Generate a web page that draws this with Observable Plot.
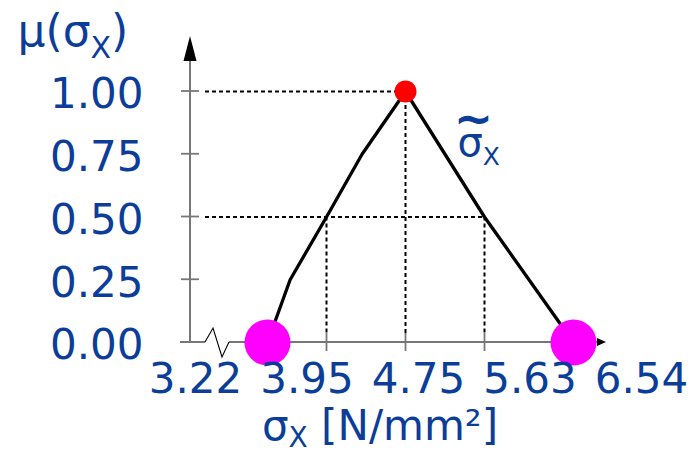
<!DOCTYPE html>
<html>
<head>
<meta charset="utf-8">
<script src="https://cdn.jsdelivr.net/npm/d3@7"></script>
<script src="https://cdn.jsdelivr.net/npm/@observablehq/plot@0.6"></script>
<style>
  html, body { margin: 0; padding: 0; background: #fff; }
</style>
</head>
<body>
<div id="chart"></div>
<script>
// Tick values of the stress axis σX (N/mm²) and of the membership axis μ
const xTicks = [3.22, 3.95, 4.75, 5.63, 6.54];
const yTicks = [0, 0.25, 0.5, 0.75, 1];

// Membership function of the fuzzy stress: rising branch, then falling branch
const sigma = [3.22, 3.50, 3.95, 4.31, 4.75, 5.63, 6.54];
const mu    = [0,    0.25, 0.5,  0.75, 1,    0.5,  0];

// Support bounds, modal value and the α = 0.5 interval
const support = [3.22, 6.54];
const peak = 4.75;
const alphaCut = [3.95, 5.63];
const alpha = 0.5;

const blue = "#0b3d99";
const axisGray = "#777";

const curve = sigma.map((s, i) => ({s, m: mu[i]}));
const hGuides = [{s: peak, m: 1}, {s: alphaCut[1], m: alpha}];
const vGuides = [{s: alphaCut[0], m: alpha}, {s: peak, m: 1}, {s: alphaCut[1], m: alpha}];

// Axis lines: vertical axis with arrowhead, horizontal axis with a break near the origin
function axisFrame(index, scales, values, dim) {
  const {width, height, marginLeft: ml, marginRight: mr, marginTop: mt, marginBottom: mb} = dim;
  const y0 = height - mb;
  const xEnd = width - mr;
  const yPos = (t) => (scales && typeof scales.y === "function") ? scales.y(t) : y0 - t * (y0 - mt);
  const g = d3.create("svg:g");
  g.append("line")
    .attr("x1", ml).attr("x2", ml).attr("y1", y0).attr("y2", mt - 30)
    .attr("stroke", axisGray).attr("stroke-width", 2);
  g.append("path")
    .attr("d", `M${ml},${mt - 55}L${ml - 6.5},${mt - 30}L${ml + 6.5},${mt - 30}Z`)
    .attr("fill", "black");
  for (const t of yTicks) {
    const y = yPos(t);
    g.append("line")
      .attr("x1", ml - 9).attr("x2", ml + 9).attr("y1", y).attr("y2", y)
      .attr("stroke", axisGray).attr("stroke-width", 1.8);
  }
  g.append("line")
    .attr("x1", ml - 10).attr("x2", ml + 15).attr("y1", y0).attr("y2", y0)
    .attr("stroke", axisGray).attr("stroke-width", 2);
  g.append("line")
    .attr("x1", ml + 39).attr("x2", xEnd).attr("y1", y0).attr("y2", y0)
    .attr("stroke", axisGray).attr("stroke-width", 2);
  g.append("path")
    .attr("d", `M${ml + 15},${y0}L${ml + 23},${y0 - 14}L${ml + 32},${y0 + 15}L${ml + 39},${y0}`)
    .attr("fill", "none").attr("stroke", "black").attr("stroke-width", 1.1);
  g.append("path")
    .attr("d", `M${xEnd + 9},${y0}L${xEnd},${y0 - 4}L${xEnd},${y0 + 4}Z`)
    .attr("fill", "black");
  return g.node();
}

const fmt = d3.format(".2f");
const textBase = {fill: blue, fontSize: 42, lineAnchor: "middle"};

// The stress tick labels sit in an evenly spaced row under the axis
const labelStep = 111.5;
const xLabelMarks = xTicks.map((v, i) =>
  Plot.text([v], {...textBase, frameAnchor: "bottom-left", textAnchor: "middle", dx: 5 + i * labelStep, dy: 37, text: fmt})
);

const chart = Plot.plot({
  width: 696,
  height: 451,
  marginLeft: 190,
  marginRight: 99,
  marginTop: 91,
  marginBottom: 109,
  x: {type: "linear", domain: xTicks, range: [267, 326, 405, 484, 573], axis: null},
  y: {domain: [0, 1], axis: null},
  style: {fontFamily: "DejaVu Sans", background: "white", overflow: "visible"},
  marks: [
    // dashed guides to the modal value and the α-cut bounds
    Plot.ruleY(hGuides, {y: "m", x1: null, x2: "s", insetLeft: 15, stroke: "black", strokeWidth: 2, strokeDasharray: "4,3"}),
    Plot.ruleX(vGuides, {x: "s", y1: "m", y2: 0, insetBottom: 9, stroke: "black", strokeWidth: 2, strokeDasharray: "4,3"}),
    axisFrame,
    // tick marks on the stress axis
    Plot.ruleX(xTicks, {x: (d) => d, y1: 0, y2: 0, insetTop: -9, insetBottom: -9, stroke: axisGray, strokeWidth: 1.8}),
    // membership function
    Plot.line(curve, {x: "s", y: "m", stroke: "black", strokeWidth: 3.3}),
    Plot.dot(support, {x: (d) => d, y: 0, r: 23, fill: "#ff00ff"}),
    Plot.dot([peak], {x: (d) => d, y: 1, r: 11, fill: "#ff0000"}),
    // tick labels
    Plot.text(yTicks, {...textBase, y: (d) => d, frameAnchor: "left", textAnchor: "end", dx: -47, dy: 3.5, text: fmt}),
    ...xLabelMarks,
    // axis titles
    Plot.text(["μ(σ_X)"], {...textBase, fontSize: 44, frameAnchor: "top-left", textAnchor: "start", dx: -173, dy: -59.5}),
    Plot.text(["σ_X [N/mm²]"], {...textBase, frameAnchor: "bottom", textAnchor: "middle", dx: -14, dy: 84}),
    // name of the fuzzy quantity next to its falling branch
    Plot.text([peak], {...textBase, fontSize: 40, x: (d) => d, y: 1, text: () => "σ_X", textAnchor: "start", dx: 52, dy: 52}),
    Plot.text([peak], {...textBase, fontSize: 47, fontWeight: "bold", x: (d) => d, y: 1, text: () => "~", textAnchor: "middle", dx: 68, dy: 27})
  ]
});

// Render "_X" as a lowered, smaller subscript (size and drop per label)
const subStyle = {
  "μ(σ_X)": {size: 30, drop: 12},
  "σ_X [N/mm²]": {size: 28, drop: 7},
  "σ_X": {size: 25, drop: 9}
};
chart.querySelectorAll("text").forEach((t) => {
  const s = t.textContent;
  const k = s.indexOf("_");
  if (k < 0) return;
  const st = subStyle[s] || {size: 26, drop: 10};
  const head = s.slice(0, k), sub = s.slice(k + 1, k + 2), tail = s.slice(k + 2);
  while (t.firstChild) t.removeChild(t.firstChild);
  const ns = "http://www.w3.org/2000/svg";
  const a = document.createElementNS(ns, "tspan");
  a.textContent = head;
  t.appendChild(a);
  const b = document.createElementNS(ns, "tspan");
  b.setAttribute("dy", String(st.drop));
  b.setAttribute("font-size", String(st.size));
  b.textContent = sub;
  t.appendChild(b);
  if (tail) {
    const c = document.createElementNS(ns, "tspan");
    c.setAttribute("dy", String(-st.drop));
    c.textContent = tail;
    t.appendChild(c);
  }
});

document.getElementById("chart").appendChild(chart);
</script>
</body>
</html>
